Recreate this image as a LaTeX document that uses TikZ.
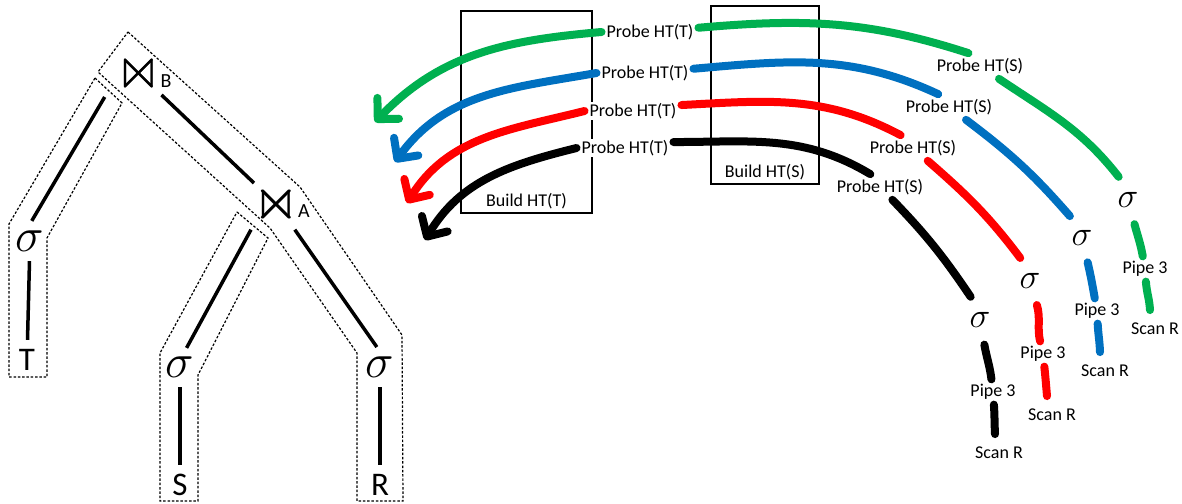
\RequirePackage{fix-cm}
\documentclass[tikz,border=0pt]{standalone}
\usepackage{amssymb}
\usepackage{fontspec}
\setmainfont{Carlito}
\usetikzlibrary{arrows.meta,positioning}
\definecolor{pgreen}{HTML}{00B050}
\definecolor{pblue}{HTML}{0070C0}
\definecolor{pred}{HTML}{FF0000}
\begin{document}
\begin{tikzpicture}[x=1pt,y=1pt,
    op/.style={circle,inner sep=0pt,minimum size=60pt,font=\fontsize{60}{60}\selectfont},
    sel/.style={circle,inner sep=0pt,minimum size=40pt,font=\fontsize{48}{48}\selectfont},
    rel/.style={circle,inner sep=0pt,minimum size=40pt,font=\fontsize{33}{33}\selectfont},
    sub/.style={inner sep=0pt,font=\fontsize{20}{20}\selectfont},
    arm/.style={line width=3.5pt},
    pipeline/.style={draw,dash pattern=on 2.5pt off 1.8pt,line width=1.2pt},
    lbl/.style={fill=white,inner sep=1pt,outer sep=4pt,font=\fontsize{18}{20}\selectfont},
    scan/.style={lbl,inner ysep=9pt},
    sig/.style={circle,inner sep=0pt,outer sep=4pt,minimum size=42pt,font=\fontsize{35}{35}\selectfont},
    flow/.style={line width=8pt,line cap=round},
    flowtip/.style={flow,-{Straight Barb[length=15pt,width=30pt,round]}},
    htbox/.style={draw,line width=1.6pt}]
    \useasboundingbox (0,0) rectangle (1182,503);
    % query tree
    \node[op] (jB) at (139,429.5) {$\Join$};
    \node[sub,anchor=base west] (jBname) at ([shift={(21.5,-14.5)}]jB.center) {B};
    \node[op] (jA) at (276.5,298.5) {$\Join$};
    \node[sub,anchor=base west] (jAname) at ([shift={(21.5,-13.5)}]jA.center) {A};
    \node[sel] (sT) at (30,262) {$\sigma$};
    \node[sel] (sS) at (180,136) {$\sigma$};
    \node[sel] (sR) at (380,136) {$\sigma$};
    \node[rel] (T) at (27,143) {T};
    \node[rel] (S) at (180,18) {S};
    \node[rel] (R) at (380,18) {R};
    \draw[arm] (jB) -- (jA);
    \draw[arm,shorten <=12pt] (jB.205) -- (sT.85);
    \draw[arm,shorten <=5pt] (jA.222) -- (sS.71);
    \draw[arm] (jA.306) -- (sR.99);
    \draw[arm] (sT) -- (T);
    \draw[arm] (sS) -- (S);
    \draw[arm] (sR) -- (R);
    % pipelines
    \draw[pipeline] (95,425) -- (122,400) -- (47,265) -- (47,126) -- (9,126) -- (9,279) -- cycle;
    \draw[pipeline] (128,471) -- (300,316) -- (402,168) -- (403,2) -- (357,2) -- (357,150) -- (270,275) -- (98,431) -- cycle;
    \draw[pipeline] (237,291) -- (268,265) -- (198,128) -- (198,2) -- (160,2) -- (160,150) -- cycle;
    % hash tables
    \node[htbox,minimum width=131pt,minimum height=202pt] (htT) at (526.5,391) {};
    \node[lbl,fill=none,above=0pt of htT.south] (htTname) {Build HT(T)};
    \node[htbox,minimum width=108pt,minimum height=178pt] (htS) at (765,408) {};
    \node[lbl,fill=none,above=0pt of htS.south] (htSname) {Build HT(S)};
    % green
    \node[scan] (gscan) at (1155,174) {Scan R};
    \node[lbl] (gpipe) at (1145,234) {Pipe 3};
    \node[sig] (gsig) at (1128,303) {$\sigma$};
    \node[lbl] (gprS) at (980,437) {Probe HT(S)};
    \node[lbl] (gprT) at (650,471) {Probe HT(T)};
    \coordinate (gtip) at (375,381);
    \draw[flow,pgreen] ([xshift=-5pt]gscan.north) to[out=93,in=-86] (gpipe);
    \draw[flow,pgreen] (gpipe) to[out=100,in=-75] (gsig);
    \draw[flow,pgreen] (gsig.112) to[out=128,in=-34] (gprS);
    \draw[flow,pgreen] (gprS.132) to[out=162,in=5] (gprT);
    \draw[flowtip,pgreen] (gprT.west) to[out=185,in=46] (gtip);
    % blue
    \node[scan] (bscan) at (1105,132) {Scan R};
    \node[lbl] (bpipe) at (1097,192) {Pipe 3};
    \node[sig] (bsig) at (1082,265) {$\sigma$};
    \node[lbl] (bprS) at (949,396) {Probe HT(S)};
    \node[lbl] (bprT) at (645,430) {Probe HT(T)};
    \coordinate (btip) at (395,341);
    \draw[flow,pblue] ([xshift=-5pt]bscan.north) to[out=92,in=-87] (bpipe);
    \draw[flow,pblue] (bpipe) to[out=100,in=-77] (bsig);
    \draw[flow,pblue] (bsig.119) to[out=131,in=-37] (bprS);
    \draw[flow,pblue] (bprS.130) to[out=155,in=5] (bprT);
    \draw[flowtip,pblue] (bprT.west) to[out=190,in=54] (btip);
    % red
    \node[scan] (rscan) at (1052,88) {Scan R};
    \node[lbl] (rpipe) at (1043,149) {Pipe 3};
    \node[sig] (rsig) at (1030,222) {$\sigma$};
    \node[lbl] (rprS) at (913,355) {Probe HT(S)};
    \node[lbl] (rprT) at (633,392) {Probe HT(T)};
    \coordinate (rtip) at (407,300);
    \draw[flow,pred] ([xshift=-5pt]rscan.north) to[out=95,in=-84] (rpipe);
    \draw[flow,pred] (rpipe) to[out=103,in=-74] (rsig);
    \draw[flow,pred] (rsig.113) to[out=127,in=-41] (rprS);
    \draw[flow,pred] (rprS.134) to[out=152,in=3] (rprT.7);
    \draw[flowtip,pred] (rprT.west) to[out=194,in=58] (rtip);
    % black
    \node[scan] (kscan) at (999,50) {Scan R};
    \node[lbl] (kpipe) at (993,111) {Pipe 3};
    \node[sig] (ksig) at (980,183) {$\sigma$};
    \node[lbl] (kprS) at (880,316) {Probe HT(S)};
    \node[lbl] (kprT) at (625,355) {Probe HT(T)};
    \coordinate (ktip) at (425,263);
    \draw[flow] ([xshift=-4pt]kscan.north) to[out=93,in=-86] (kpipe);
    \draw[flow] (kpipe) to[out=97,in=-80] (ksig);
    \draw[flow] (ksig.112) to[out=124,in=-46] (kprS);
    \draw[flow] (kprS.127) to[out=149,in=0] (kprT.7);
    \draw[flowtip] (kprT.west) to[out=194,in=59] (ktip);
\end{tikzpicture}
\end{document}
